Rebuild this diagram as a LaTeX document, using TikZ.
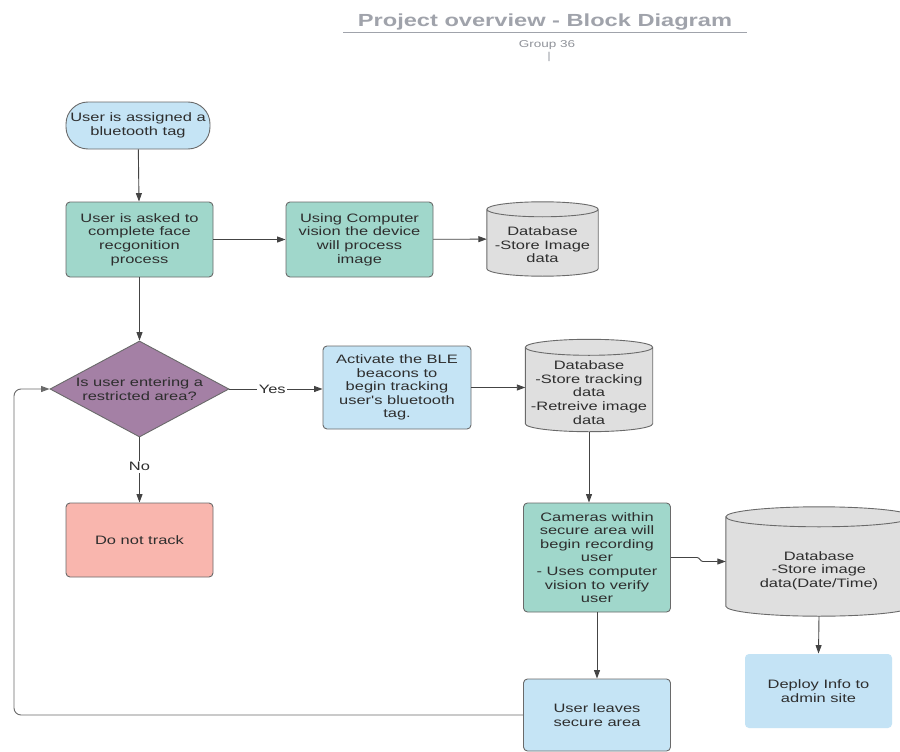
\documentclass[tikz,border=0pt]{standalone}
\usepackage{fontspec}
\setmainfont{Liberation Sans}
\newfontfamily\bodyfont[FakeStretch=1.35]{Liberation Sans}
\usetikzlibrary{shapes.geometric,arrows.meta,calc,backgrounds}

\definecolor{termblue}{HTML}{C5E4F5}
\definecolor{procteal}{HTML}{A0D7CB}
\definecolor{decpurple}{HTML}{A480A5}
\definecolor{stopsalmon}{HTML}{F9B6AE}
\definecolor{dbgray}{HTML}{DFDFDF}
\definecolor{deployblue}{HTML}{C4E3F5}
\definecolor{edgegray}{HTML}{6A6A6A}
\definecolor{linegray}{HTML}{444444}
\definecolor{textgray}{HTML}{2E2E2E}
\definecolor{titlegray}{HTML}{A0A3AB}

\newcommand\bodytext{\bodyfont\fontsize{12.2}{13.6}\selectfont}
\newcommand\titletext{\bodyfont\bfseries\fontsize{17.5}{20}\selectfont}
\newcommand\smalltext{\bodyfont\fontsize{10}{12}\selectfont}

% cylinder outline around a rectangular node: #1 node name, #2 cap half-height
\newcommand\drawcyl[2]{%
  \begin{scope}[on background layer]
    \path let \p1=(#1.north west), \p2=(#1.south east), \n1={(\x2-\x1)/2} in
      [fill=dbgray, draw=edgegray, line width=0.9pt]
      (\x1,\y1-#2) -- (\x1,\y2+#2)
        arc[start angle=180, end angle=360, x radius=\n1, y radius=#2]
        -- (\x2,\y1-#2)
        arc[start angle=0, end angle=180, x radius=\n1, y radius=#2] -- cycle
      (\x1,\y1-#2) arc[start angle=180, end angle=360, x radius=\n1, y radius=#2];
  \end{scope}}

\begin{document}
\begin{tikzpicture}[x=1pt, y=-1pt,
  procbox/.style={draw=edgegray, line width=0.9pt, rounded corners=4pt,
    align=center, font=\bodytext, text=textgray, inner sep=2pt},
  termnode/.style={procbox, fill=termblue, rounded corners=22pt,
    minimum width=144pt, minimum height=47pt},
  tealbox/.style={procbox, fill=procteal},
  bluebox/.style={procbox, fill=termblue},
  stopbox/.style={procbox, fill=stopsalmon},
  decision/.style={diamond, draw=edgegray, line width=0.9pt, fill=decpurple,
    inner sep=0pt},
  dbstore/.style={rectangle, inner sep=0pt},
  inlabel/.style={align=center, font=\bodytext, text=textgray},
  flow/.style={draw=linegray, line width=0.9pt,
    -{Triangle[length=8.5pt, width=6pt]}},
  tag/.style={font=\bodytext, text=textgray, fill=white, inner sep=1.5pt}]

\begin{scope}[on background layer]
  \fill[white] (0,0) rectangle (900,752);
\end{scope}
\useasboundingbox (0,0) rectangle (900,752);

% heading
\node[font=\titletext, text=titlegray] (title) at (545,22.5) {Project overview - Block Diagram};
\draw[titlegray, line width=1.3pt] (343,32.5) -- (747,32.5);
\node[font=\smalltext, text=titlegray!90!black] (group) at (547,45) {Group 36};
\node[font=\smalltext, text=titlegray] (cursor) at (549,57) {|};

% process blocks
\node[termnode] (start) at (138,125.5) {User is assigned a\\bluetooth tag};
\node[tealbox, minimum width=147pt, minimum height=75pt] (face) at (139.5,239.5)
  {User is asked to\\complete face\\recgonition\\process};
\node[tealbox, minimum width=147pt, minimum height=75pt] (vision) at (359.5,239.5)
  {Using Computer\\vision the device\\will process\\image};
\node[dbstore, minimum width=111pt, minimum height=74pt,
  label={[inlabel, yshift=-6pt]center:Database\\-Store Image\\data}] (db1) at (542.5,239) {};

\node[decision, minimum width=179pt, minimum height=96pt,
  label={[inlabel]center:Is user entering a\\restricted area?}] (dec) at (139.5,389) {};
\node[bluebox, minimum width=148pt, minimum height=83pt] (ble) at (397,387.5)
  {Activate the BLE\\beacons to\\begin tracking\\user's bluetooth\\tag.};
\node[dbstore, minimum width=127pt, minimum height=92pt,
  label={[inlabel, yshift=-7pt]center:Database\\-Store tracking\\data\\-Retreive image\\data}] (db2) at (589,385.5) {};

\node[stopbox, minimum width=147pt, minimum height=74pt] (notrack) at (139.5,540)
  {Do not track};
\node[tealbox, minimum width=147pt, minimum height=109pt] (cams) at (597,557.5)
  {Cameras within\\secure area will\\begin recording\\user\\- Uses computer\\vision to verify\\user};
\node[dbstore, minimum width=186pt, minimum height=109pt,
  label={[inlabel, yshift=-9pt]center:Database\\-Store image\\data(Date/Time)}] (db3) at (819,561.5) {};

\node[procbox, draw=none, fill=deployblue, minimum width=147pt, minimum height=74pt]
  (deploy) at (818.5,691) {Deploy Info to\\admin site};
\node[bluebox, minimum width=147pt, minimum height=72pt] (leave) at (597,715)
  {User leaves\\secure area};

% storage cylinders
\drawcyl{db1}{7.5pt}
\drawcyl{db2}{8pt}
\drawcyl{db3}{10pt}

% connectors
\draw[flow] (start) -- (face);
\draw[flow] (face) -- (vision);
\draw[flow] (vision) -- (db1);
\draw[flow] (face) -- (dec);
\draw[flow] (dec.east) -- node[tag, pos=0.46] {Yes} (dec.east -| ble.west);
\draw[flow] (ble.east) -- (ble.east -| db2.west);
\draw[flow] (dec.south) -- node[tag, pos=0.45] {No} (notrack.north);
\draw[flow] (db2.south) -- (db2.south |- cams.north);
\coordinate (jog) at (697,557.5);
\draw[flow] (cams.east) -- (jog) .. controls +(3,0) and +(-3,0) .. ++(6,4) -- (db3.west);
\draw[flow] (db3.south) -- (deploy.north);
\draw[flow] (cams.south) -- (leave.north);
\coordinate (loopbl) at (14,715);
\draw[flow, draw=edgegray, rounded corners=7pt] (leave.west) -- (loopbl) -- (loopbl |- dec.west) -- (dec.west);

\end{tikzpicture}
\end{document}
